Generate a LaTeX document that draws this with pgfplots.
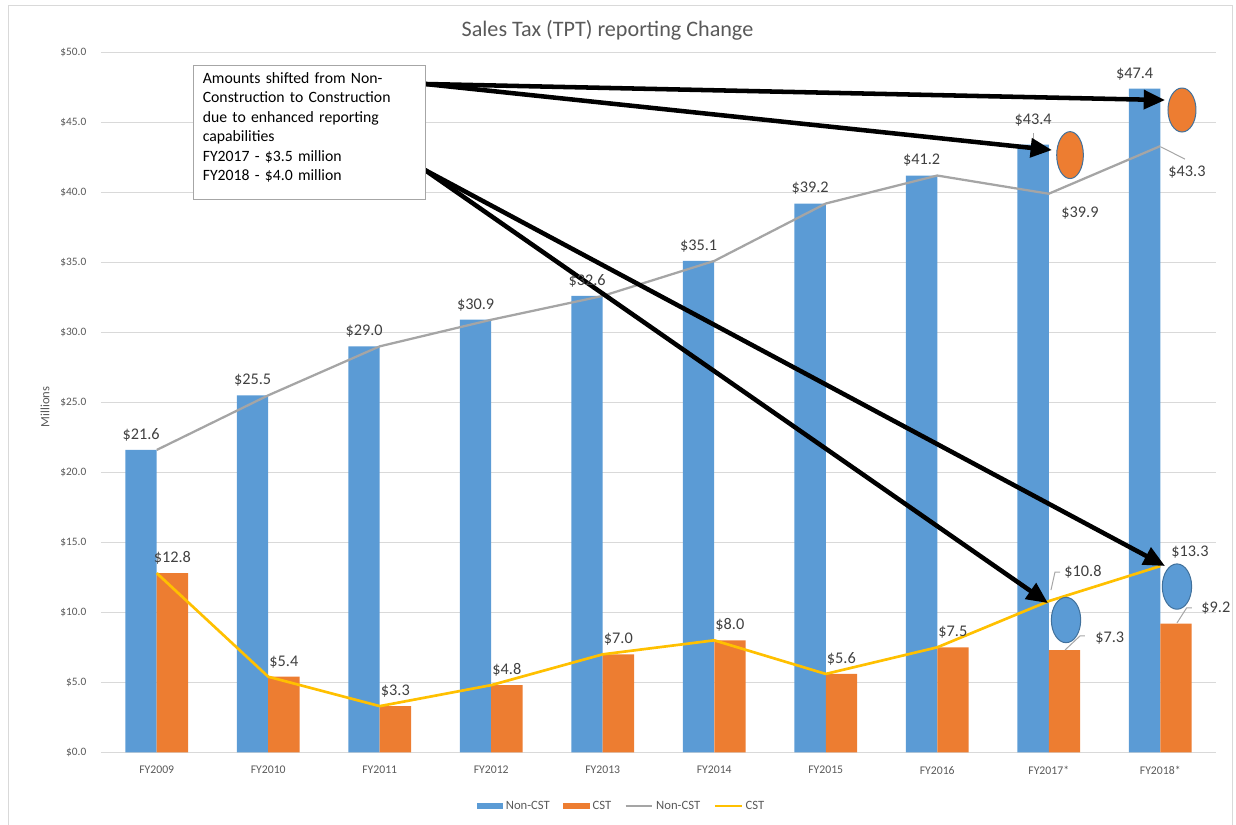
\documentclass[border=0pt]{standalone}
\usepackage{pgfplots}
\pgfplotsset{compat=1.18}
\usepackage{pgfplotstable}
\usepackage{fontspec}
\setmainfont{Carlito}
\usetikzlibrary{arrows.meta}
\definecolor{ncblue}{HTML}{5B9BD5}
\definecolor{corange}{HTML}{ED7D31}
\definecolor{lgray}{HTML}{A5A5A5}
\definecolor{lyellow}{HTML}{FFC000}
\definecolor{txt}{HTML}{595959}
\definecolor{lbl}{HTML}{404040}
\definecolor{gridc}{HTML}{D9D9D9}
\definecolor{ellb}{HTML}{41719C}
\definecolor{leader}{HTML}{A6A6A6}

\pgfplotstableread{
x nc c ncl cl ndx ndy cdx cdy
0 21.6 12.8 21.6 12.8 -11.75 8 11.75 8
1 25.5 5.4 25.5 5.4 -11.75 8 11.75 8
2 29.0 3.3 29.0 3.3 -11.75 8 11.75 8
3 30.9 4.8 30.9 4.8 -11.75 8 11.75 8
4 32.6 7.0 32.6 7.0 -11.75 8 11.75 8
5 35.1 8.0 35.1 8.0 -11.75 8 11.75 8
6 39.2 5.6 39.2 5.6 -11.75 8 11.75 8
7 41.2 7.5 41.2 7.5 -11.75 8 11.75 8
8 43.4 7.3 39.9 10.8 -11.75 15.5 45.75 5.75
9 47.4 9.2 43.3 13.3 -19.25 8 41.75 8
}\data

\begin{document}
\begin{tikzpicture}
\useasboundingbox (0,0) rectangle (927pt,618.75pt);
\draw[gridc, line width=0.75pt] (6pt,0) -- (6pt,614.25pt) -- (924pt,614.25pt) -- (924pt,0);
\node[text=txt, font=\fontsize{16.6}{19}\selectfont] at (455.6pt,596.25pt) {Sales Tax (TPT) reporting Change};
\node[rotate=90, text=txt, font=\fontsize{9.5}{11}\selectfont] at (33.75pt,313.5pt) {Millions};
\begin{axis}[
  at={(75.75pt,54.5pt)}, anchor=south west,
  scale only axis, width=836.25pt, height=525pt,
  xmin=-0.5, xmax=9.5, ymin=0, ymax=50,
  xtick={0,1,2,3,4,5,6,7,8,9},
  xticklabels={FY2009,FY2010,FY2011,FY2012,FY2013,FY2014,FY2015,FY2016,FY2017*,FY2018*},
  ytick={0,5,10,15,20,25,30,35,40,45,50},
  ymajorgrids, grid style={gridc, line width=0.75pt},
  axis line style={draw=none},
  major tick length=0pt, tick style={draw=none},
  /pgf/number format/assume math mode=true,
  yticklabel={\$\pgfmathprintnumber[fixed,fixed zerofill,precision=1]{\tick}},
  yticklabel style={font=\fontsize{8.5}{10}\selectfont, text=txt, xshift=-7.5pt},
  xticklabel style={font=\fontsize{8.8}{10}\selectfont, text=txt, yshift=-7pt},
  clip=false,
  legend columns=4,
  legend style={draw=none, fill=none, at={(0.467,-0.0767)}, anchor=center,
    font=\fontsize{9.5}{11}\selectfont, text=txt,
    /tikz/every even column/.append style={column sep=8pt}},
]
\addplot[ybar, bar width=23.5pt, bar shift=-11.75pt, fill=ncblue, draw=none,
  legend image code/.code={\fill[ncblue] (0pt,-2.5pt) rectangle (20pt,2.5pt);},
  nodes near coords={\$\pgfmathprintnumber[fixed,fixed zerofill,precision=1]{\pgfplotspointmeta}},
  visualization depends on={\thisrow{ndx} \as \dx},
  visualization depends on={\thisrow{ndy} \as \dy},
  nodes near coords style={anchor=base, text=lbl, font=\fontsize{12.2}{14}\selectfont, xshift=\dx pt, yshift=\dy pt}]
  table[x=x,y=nc]{\data};
\addlegendentry{Non-CST}
\addplot[ybar, bar width=23.5pt, bar shift=11.75pt, fill=corange, draw=none,
  legend image code/.code={\fill[corange] (0pt,-2.5pt) rectangle (20pt,2.5pt);},
  nodes near coords={\$\pgfmathprintnumber[fixed,fixed zerofill,precision=1]{\pgfplotspointmeta}},
  visualization depends on={\thisrow{cdx} \as \dx},
  visualization depends on={\thisrow{cdy} \as \dy},
  nodes near coords style={anchor=base, text=lbl, font=\fontsize{12.2}{14}\selectfont, xshift=\dx pt, yshift=\dy pt}]
  table[x=x,y=c]{\data};
\addlegendentry{CST}
\addplot[lgray, line width=1.7pt, line join=round, no markers,
  legend image code/.code={\draw[lgray, line width=1.7pt] (0pt,0pt) -- (20pt,0pt);}]
  table[x=x,y=ncl]{\data};
\addlegendentry{Non-CST}
\addplot[lyellow, line width=2pt, line join=round, no markers,
  legend image code/.code={\draw[lyellow, line width=2pt] (0pt,0pt) -- (20pt,0pt);}]
  table[x=x,y=cl]{\data};
\addlegendentry{CST}

% line data labels and leader lines
\begin{scope}[every node/.style={text=lbl, font=\fontsize{12.2}{14}\selectfont}]
\node at (axis cs:8.280,38.52) {\$39.9};
\node at (axis cs:9.240,41.45) {\$43.3};
\node at (axis cs:8.307,12.88) {\$10.8};
\node at (axis cs:9.267,14.31) {\$13.3};
\end{scope}
\draw[leader, line width=0.75pt] (axis cs:7.859,44.24) -- (axis cs:7.859,43.52);
\draw[leader, line width=0.75pt] (axis cs:9.007,43.24) -- (axis cs:9.222,42.37);
\draw[leader, line width=0.75pt] (axis cs:8.020,11.59) -- (axis cs:8.056,12.88) -- (axis cs:8.101,12.88);
\draw[leader, line width=0.75pt] (axis cs:8.146,7.31) -- (axis cs:8.280,8.31) -- (axis cs:8.325,8.31);
\draw[leader, line width=0.75pt] (axis cs:9.150,9.24) -- (axis cs:9.236,10.31) -- (axis cs:9.284,10.31);

% ellipses
\draw[ellb, fill=corange, line width=0.75pt] (axis cs:8.191,42.66) ellipse [x radius=10pt, y radius=17.6pt];
\draw[ellb, fill=corange, line width=0.75pt] (axis cs:9.195,45.88) ellipse [x radius=10.5pt, y radius=16.5pt];
\draw[ellb, fill=ncblue, line width=0.75pt] (axis cs:8.155,9.45) ellipse [x radius=11pt, y radius=17pt];
\draw[ellb, fill=ncblue, line width=0.75pt] (axis cs:9.150,11.84) ellipse [x radius=11pt, y radius=17pt];

% arrows
\begin{scope}[line width=3.4pt, -{Triangle[length=16pt,width=14pt]}]
\draw (axis cs:2.406,47.74) -- (axis cs:9.043,46.59);
\draw (axis cs:2.406,47.74) -- (axis cs:8.029,43.02);
\draw (axis cs:2.406,41.59) -- (axis cs:7.993,10.66);
\draw (axis cs:2.406,41.59) -- (axis cs:9.043,13.31);
\end{scope}

% text box
\node[anchor=north west, draw=leader, fill=white, line width=0.75pt, text width=160pt, align=left,
  inner xsep=7pt, inner ysep=5pt, font=\fontsize{11.8}{14.6}\selectfont, text=black]
  at (axis cs:0.325,49.09) {Amounts shifted from Non-\\Construction to Construction\\due to enhanced reporting\\capabilities\\FY2017 - \$3.5 million\\FY2018 - \$4.0 million\\[-5.5pt]\mbox{}};
\end{axis}
\end{tikzpicture}
\end{document}
